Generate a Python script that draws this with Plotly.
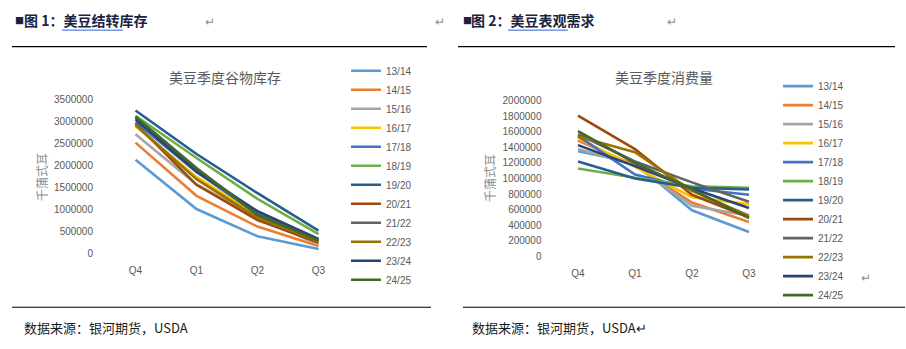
import plotly.graph_objects as go

W, H = 906, 349

quarters = ["Q4", "Q1", "Q2", "Q3"]
seasons = ["13/14", "14/15", "15/16", "16/17", "17/18", "18/19",
           "19/20", "20/21", "21/22", "22/23", "23/24", "24/25"]
colors = ["#5B9BD5", "#ED7D31", "#A5A5A5", "#FFC000", "#4472C4", "#70AD47",
          "#255E91", "#9E480E", "#636363", "#997300", "#264478", "#43682B"]

# 美豆季度谷物库存 (千蒲式耳)
stocks_1314 = [2140000, 1020000, 400000, 110000]
stocks_1415 = [2530000, 1320000, 620000, 180000]
stocks_1516 = [2720000, 1580000, 820000, 220000]
stocks_1617 = [2900000, 1750000, 860000, 280000]
stocks_1718 = [3000000, 1860000, 900000, 300000]
stocks_1819 = [3140000, 2180000, 1250000, 450000]
stocks_1920 = [3260000, 2270000, 1380000, 530000]
stocks_2021 = [2960000, 1570000, 770000, 260000]
stocks_2122 = [3100000, 1930000, 930000, 320000]
stocks_2223 = [2930000, 1700000, 820000, 290000]
stocks_2324 = [3060000, 1870000, 970000, 340000]
stocks_2425 = [3120000, 1950000, 880000, 310000]

# 美豆季度消费量 (千蒲式耳)
use_1314 = [1350000, 1200000, 590000, 310000]
use_1415 = [1490000, 1170000, 690000, 440000]
use_1516 = [1380000, 1170000, 650000, 520000]
use_1617 = [1520000, 1150000, 760000, 670000]
use_1718 = [1550000, 1050000, 870000, 790000]
use_1819 = [1130000, 1010000, 900000, 880000]
use_1920 = [1220000, 1000000, 880000, 860000]
use_2021 = [1810000, 1380000, 790000, 500000]
use_2122 = [1570000, 1220000, 950000, 700000]
use_2223 = [1540000, 1340000, 840000, 520000]
use_2324 = [1430000, 1160000, 870000, 620000]
use_2425 = [1610000, 1200000, 860000, 490000]

stocks = [stocks_1314, stocks_1415, stocks_1516, stocks_1617, stocks_1718, stocks_1819,
          stocks_1920, stocks_2021, stocks_2122, stocks_2223, stocks_2324, stocks_2425]
use = [use_1314, use_1415, use_1516, use_1617, use_1718, use_1819,
       use_1920, use_2021, use_2122, use_2223, use_2324, use_2425]

def px(x):
    return x / W

def py(y):
    return 1 - y / H

fig = go.Figure()
for name, col, vals in zip(seasons, colors, stocks):
    fig.add_trace(go.Scatter(x=quarters, y=vals, name=name, mode="lines",
                             line=dict(color=col, width=2.6),
                             xaxis="x", yaxis="y", legend="legend"))
for name, col, vals in zip(seasons, colors, use):
    fig.add_trace(go.Scatter(x=quarters, y=vals, name=name, mode="lines",
                             line=dict(color=col, width=2.6),
                             xaxis="x2", yaxis="y2", legend="legend2"))

tickfont = dict(family="Liberation Sans, Arial", size=10, color="#595959")
axis_common = dict(showgrid=False, zeroline=False, showline=False, ticks="",
                   tickfont=tickfont, fixedrange=True)

legend_common = dict(font=dict(family="Liberation Sans, Arial", size=10, color="#595959"),
                     bgcolor="rgba(0,0,0,0)", borderwidth=0, itemwidth=30,
                     tracegroupgap=0, xanchor="left", yanchor="top",
                     itemclick=False, itemdoubleclick=False)

fig.update_layout(
    width=W, height=H, autosize=False,
    margin=dict(l=0, r=0, t=0, b=0),
    paper_bgcolor="white", plot_bgcolor="white",
    xaxis=dict(domain=[px(105), px(349)], type="category", range=[-0.5, 3.5],
               anchor="y", ticklabelstandoff=9, **axis_common),
    yaxis=dict(domain=[py(256.7), py(97.3)], range=[0, 3500000], dtick=500000,
               tickformat="d", anchor="x", ticklabelstandoff=11, **axis_common),
    xaxis2=dict(domain=[px(549.5), px(777.5)], type="category", range=[-0.5, 3.5],
                anchor="y2", ticklabelstandoff=10, **axis_common),
    yaxis2=dict(domain=[py(259), py(98.3)], range=[0, 2000000], dtick=200000,
                tickformat="d", anchor="x2", ticklabelstandoff=7, **axis_common),
    legend=dict(x=px(346), y=py(52), **legend_common),
    legend2=dict(x=px(778), y=py(68), **legend_common),
    showlegend=True,
)

cjk = "Noto Sans CJK SC"
annotations = [
    # headers
    dict(x=px(13), y=py(15), text="■", font=dict(family=cjk, size=9, color="#1a2340"),
         xanchor="left", yanchor="middle"),
    dict(x=px(22), y=py(15), text="<b>图 1：美豆结转库存</b>",
         font=dict(family=cjk, size=14, color="#1a2340"), xanchor="left", yanchor="middle"),
    dict(x=px(210), y=py(15), text="↵", font=dict(family=cjk, size=12, color="#8c8c8c"),
         xanchor="center", yanchor="middle"),
    dict(x=px(440), y=py(15), text="↵", font=dict(family=cjk, size=12, color="#8c8c8c"),
         xanchor="center", yanchor="middle"),
    dict(x=px(461), y=py(15), text="■", font=dict(family=cjk, size=9, color="#1a2340"),
         xanchor="left", yanchor="middle"),
    dict(x=px(469), y=py(15), text="<b>图 2：美豆表观需求</b>",
         font=dict(family=cjk, size=14, color="#1a2340"), xanchor="left", yanchor="middle"),
    dict(x=px(672), y=py(15), text="↵", font=dict(family=cjk, size=12, color="#8c8c8c"),
         xanchor="center", yanchor="middle"),
    # chart titles
    dict(x=px(225), y=py(74), text="美豆季度谷物库存",
         font=dict(family=cjk, size=14, color="#595959"), xanchor="center", yanchor="middle"),
    dict(x=px(664), y=py(74), text="美豆季度消费量",
         font=dict(family=cjk, size=14, color="#595959"), xanchor="center", yanchor="middle"),
    # y-axis titles
    dict(x=px(42), y=py(177), text="千蒲式耳", textangle=-90,
         font=dict(family=cjk, size=12, color="#8c8c8c"), xanchor="center", yanchor="middle"),
    dict(x=px(490), y=py(178), text="千蒲式耳", textangle=-90,
         font=dict(family=cjk, size=12, color="#8c8c8c"), xanchor="center", yanchor="middle"),
    dict(x=px(866), y=py(280), text="↵", font=dict(family=cjk, size=12, color="#8c8c8c"),
         xanchor="center", yanchor="middle"),
    # footers
    dict(x=px(22), y=py(333), text="数据来源：银河期货，USDA",
         font=dict(family=cjk, size=13, color="#1a1a1a"), xanchor="left", yanchor="middle"),
    dict(x=px(470), y=py(333), text="数据来源：银河期货，USDA↵",
         font=dict(family=cjk, size=13, color="#1a1a1a"), xanchor="left", yanchor="middle"),
]
for a in annotations:
    a.update(xref="paper", yref="paper", showarrow=False)
fig.update_layout(annotations=annotations)

shapes = [
    dict(type="line", x0=px(12), x1=px(427), y0=py(42), y1=py(42), line=dict(color="black", width=1.2)),
    dict(type="line", x0=px(458), x1=px(895), y0=py(42), y1=py(42), line=dict(color="black", width=1.2)),
    dict(type="line", x0=px(12), x1=px(431), y0=py(312), y1=py(312), line=dict(color="black", width=1.2)),
    dict(type="line", x0=px(463), x1=px(905), y0=py(312), y1=py(312), line=dict(color="black", width=1.2)),
    # hyperlink-style underlines
    dict(type="line", x0=px(62), x1=px(123), y0=py(25), y1=py(25), line=dict(color="#2f5fd0", width=1)),
    dict(type="line", x0=px(508), x1=px(568), y0=py(25), y1=py(25), line=dict(color="#2f5fd0", width=1)),
]
for s in shapes:
    s.update(xref="paper", yref="paper")
fig.update_layout(shapes=shapes)

fig.write_html("out.html")
